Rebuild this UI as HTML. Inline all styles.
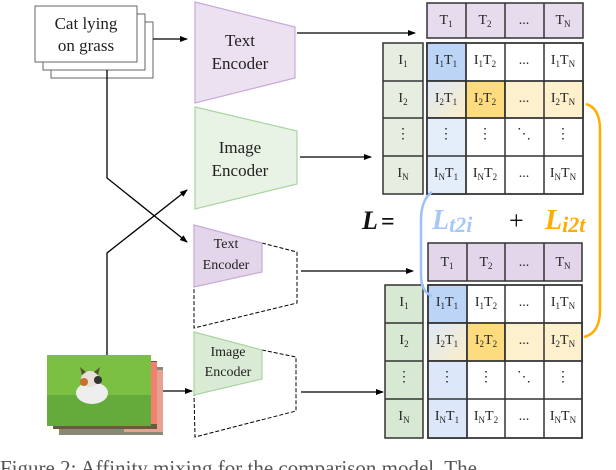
<!DOCTYPE html>
<html><head><meta charset="utf-8"><style>
html,body{margin:0;padding:0;background:#fff;width:616px;height:470px;overflow:hidden}
svg text{font-family:"Liberation Serif","DejaVu Serif",serif;fill:#222}
</style></head><body>
<svg width="616" height="470" viewBox="0 0 616 470" xmlns="http://www.w3.org/2000/svg" font-family="Liberation Serif, DejaVu Serif, serif">
<defs>
<marker id="a" markerWidth="8" markerHeight="8" refX="7" refY="4" orient="auto" markerUnits="userSpaceOnUse"><path d="M0,1 L8,4 L0,7 z" fill="#000"/></marker>
<linearGradient id="g1" x1="0" y1="0" x2="1" y2="1"><stop offset="0" stop-color="#dde8f8"/><stop offset="1" stop-color="#fbeec8"/></linearGradient>
</defs>
<rect x="51" y="22" width="102" height="56" fill="#fff" stroke="#666" stroke-width="1"/>
<rect x="43" y="14" width="102" height="56" fill="#fff" stroke="#666" stroke-width="1"/>
<rect x="35" y="6" width="102" height="56" fill="#fff" stroke="#666" stroke-width="1"/>
<text x="86" y="29" font-size="17" text-anchor="middle">Cat lying</text>
<text x="86" y="51" font-size="17" text-anchor="middle">on grass</text>
<line x1="153" y1="39" x2="187" y2="39" stroke="#000" stroke-width="1.3" marker-end="url(#a)"/>
<polygon points="195,2 295,27 295,78 195,103" fill="#ebe1f1" stroke="#caa9da" stroke-width="1.2"/>
<text x="240" y="46" font-size="17" text-anchor="middle">Text</text>
<text x="240" y="69" font-size="17" text-anchor="middle">Encoder</text>
<polygon points="195,107 297,131 297,184 195,209" fill="#e8f2e5" stroke="#aad4a2" stroke-width="1.2"/>
<text x="240" y="153" font-size="17" text-anchor="middle">Image</text>
<text x="240" y="176" font-size="17" text-anchor="middle">Encoder</text>
<line x1="297" y1="33" x2="415" y2="33" stroke="#000" stroke-width="1.3" marker-end="url(#a)"/>
<line x1="300" y1="157" x2="371" y2="157" stroke="#000" stroke-width="1.3" marker-end="url(#a)"/>
<polyline points="107,70 107,178 187,242" fill="none" stroke="#000" stroke-width="1.3" marker-end="url(#a)"/>
<polyline points="107,355 107,253 187,190" fill="none" stroke="#000" stroke-width="1.3" marker-end="url(#a)"/>
<polygon points="262,243 297,252 297,303 194,328 194,287" fill="none" stroke="#000" stroke-width="1" stroke-dasharray="4,2"/>
<polygon points="194,225 262,243 262,272 194,287" fill="#e3d5ea" stroke="#caa9da" stroke-width="1.2"/>
<text x="226" y="248" font-size="14" text-anchor="middle">Text</text>
<text x="226" y="269" font-size="14" text-anchor="middle">Encoder</text>
<polygon points="262,350 296,357 296,411 195,437 194,395" fill="none" stroke="#000" stroke-width="1" stroke-dasharray="4,2"/>
<polygon points="194,332 262,350 262,379 194,395" fill="#d9ebd5" stroke="#aad4a2" stroke-width="1.2"/>
<text x="228" y="356" font-size="14" text-anchor="middle">Image</text>
<text x="228" y="376" font-size="14" text-anchor="middle">Encoder</text>
<line x1="301" y1="271" x2="413" y2="271" stroke="#000" stroke-width="1.3" marker-end="url(#a)"/>
<line x1="301" y1="392" x2="383" y2="392" stroke="#000" stroke-width="1.3" marker-end="url(#a)"/>
<line x1="163" y1="391" x2="192" y2="391" stroke="#000" stroke-width="1.3" marker-end="url(#a)"/>
<rect x="59" y="367" width="104" height="68" fill="#8a8678"/>
<rect x="124" y="370" width="39" height="62" fill="#e8a090"/>
<rect x="53" y="361" width="104" height="68" fill="#6b5a40"/>
<rect x="130" y="362" width="27" height="62" fill="#f08070"/>
<rect x="47" y="355" width="104" height="71" fill="#7cc043"/>
<rect x="47" y="395" width="104" height="31" fill="#64ab3c"/>
<ellipse cx="92" cy="393" rx="16" ry="11" fill="#eee"/>
<ellipse cx="90" cy="379" rx="9" ry="8" fill="#e8e0d8"/>
<path d="M82,375 L80,367 L86,372 Z M98,375 L100,367 L94,372 Z" fill="#553"/>
<ellipse cx="84" cy="382" rx="4" ry="4" fill="#c87030"/>
<ellipse cx="98" cy="380" rx="4" ry="4" fill="#333"/>
<g stroke="#333" stroke-width="1.5">
<rect x="427" y="3" width="156" height="35" fill="#e6dcee"/>
<line x1="466" y1="3" x2="466" y2="38"/><line x1="505" y1="3" x2="505" y2="38"/><line x1="544" y1="3" x2="544" y2="38"/>
<rect x="383" y="43" width="40" height="151" fill="#e5eee1"/>
<line x1="383" y1="81" x2="423" y2="81"/><line x1="383" y1="118" x2="423" y2="118"/><line x1="383" y1="156" x2="423" y2="156"/>
<rect x="427" y="43" width="156" height="151" fill="#fff"/>
<rect x="427" y="43" width="39" height="38" fill="#bcd5f7"/>
<rect x="427" y="81" width="39" height="37" fill="url(#g1)"/>
<rect x="466" y="81" width="39" height="37" fill="#fddc80"/>
<rect x="505" y="81" width="78" height="37" fill="#fdf0cc"/>
<rect x="427" y="118" width="39" height="76" fill="#e4eefb"/>
<line x1="466" y1="43" x2="466" y2="194"/><line x1="505" y1="43" x2="505" y2="194"/><line x1="544" y1="43" x2="544" y2="194"/>
<line x1="427" y1="81" x2="583" y2="81"/><line x1="427" y1="118" x2="583" y2="118"/><line x1="427" y1="156" x2="583" y2="156"/>
<rect x="427" y="43" width="156" height="151" fill="none"/>
</g>
<g font-size="14" text-anchor="middle">
<text x="446" y="24">T<tspan font-size="9" dy="3">1</tspan></text>
<text x="485" y="24">T<tspan font-size="9" dy="3">2</tspan></text>
<text x="524" y="24">...</text>
<text x="563" y="24">T<tspan font-size="9" dy="3">N</tspan></text>
<text x="403" y="64">I<tspan font-size="9" dy="3">1</tspan></text>
<text x="403" y="102">I<tspan font-size="9" dy="3">2</tspan></text>
<text x="403" y="138">⋮</text>
<text x="403" y="177">I<tspan font-size="9" dy="3">N</tspan></text>
<text x="446" y="64">I<tspan font-size="9" dy="3">1</tspan><tspan dy="-3">T</tspan><tspan font-size="9" dy="3">1</tspan></text>
<text x="485" y="64">I<tspan font-size="9" dy="3">1</tspan><tspan dy="-3">T</tspan><tspan font-size="9" dy="3">2</tspan></text>
<text x="524" y="64">...</text>
<text x="563" y="64">I<tspan font-size="9" dy="3">1</tspan><tspan dy="-3">T</tspan><tspan font-size="9" dy="3">N</tspan></text>
<text x="446" y="102">I<tspan font-size="9" dy="3">2</tspan><tspan dy="-3">T</tspan><tspan font-size="9" dy="3">1</tspan></text>
<text x="485" y="102">I<tspan font-size="9" dy="3">2</tspan><tspan dy="-3">T</tspan><tspan font-size="9" dy="3">2</tspan></text>
<text x="524" y="102">...</text>
<text x="563" y="102">I<tspan font-size="9" dy="3">2</tspan><tspan dy="-3">T</tspan><tspan font-size="9" dy="3">N</tspan></text>
<text x="446" y="138">⋮</text><text x="485" y="138">⋮</text><text x="524" y="138">⋱</text><text x="563" y="138">⋮</text>
<text x="446" y="177">I<tspan font-size="9" dy="3">N</tspan><tspan dy="-3">T</tspan><tspan font-size="9" dy="3">1</tspan></text>
<text x="485" y="177">I<tspan font-size="9" dy="3">N</tspan><tspan dy="-3">T</tspan><tspan font-size="9" dy="3">2</tspan></text>
<text x="524" y="177">...</text>
<text x="563" y="177">I<tspan font-size="9" dy="3">N</tspan><tspan dy="-3">T</tspan><tspan font-size="9" dy="3">N</tspan></text>
</g>
<g stroke="#333" stroke-width="1.5">
<rect x="428" y="243" width="154" height="38" fill="#e3d6ea"/>
<line x1="467" y1="243" x2="467" y2="281"/><line x1="505" y1="243" x2="505" y2="281"/><line x1="544" y1="243" x2="544" y2="281"/>
<rect x="385" y="285" width="38" height="153" fill="#d8e9d3"/>
<line x1="385" y1="323" x2="423" y2="323"/><line x1="385" y1="361" x2="423" y2="361"/><line x1="385" y1="399" x2="423" y2="399"/>
<rect x="428" y="285" width="154" height="153" fill="#fff"/>
<rect x="428" y="285" width="39" height="38" fill="#bcd5f7"/>
<rect x="428" y="323" width="39" height="38" fill="url(#g1)"/>
<rect x="467" y="323" width="38" height="38" fill="#fddc80"/>
<rect x="505" y="323" width="77" height="38" fill="#fdf0cc"/>
<rect x="428" y="361" width="39" height="77" fill="#dce8fa"/>
<line x1="467" y1="285" x2="467" y2="438"/><line x1="505" y1="285" x2="505" y2="438"/><line x1="544" y1="285" x2="544" y2="438"/>
<line x1="428" y1="323" x2="582" y2="323"/><line x1="428" y1="361" x2="582" y2="361"/><line x1="428" y1="399" x2="582" y2="399"/>
<rect x="428" y="285" width="154" height="153" fill="none"/>
</g>
<g font-size="14" text-anchor="middle">
<text x="447" y="266">T<tspan font-size="9" dy="3">1</tspan></text>
<text x="486" y="266">T<tspan font-size="9" dy="3">2</tspan></text>
<text x="524" y="266">...</text>
<text x="563" y="266">T<tspan font-size="9" dy="3">N</tspan></text>
<text x="404" y="306">I<tspan font-size="9" dy="3">1</tspan></text>
<text x="404" y="344">I<tspan font-size="9" dy="3">2</tspan></text>
<text x="404" y="381">⋮</text>
<text x="404" y="420">I<tspan font-size="9" dy="3">N</tspan></text>
<text x="447" y="306">I<tspan font-size="9" dy="3">1</tspan><tspan dy="-3">T</tspan><tspan font-size="9" dy="3">1</tspan></text>
<text x="486" y="306">I<tspan font-size="9" dy="3">1</tspan><tspan dy="-3">T</tspan><tspan font-size="9" dy="3">2</tspan></text>
<text x="524" y="306">...</text>
<text x="563" y="306">I<tspan font-size="9" dy="3">1</tspan><tspan dy="-3">T</tspan><tspan font-size="9" dy="3">N</tspan></text>
<text x="447" y="344">I<tspan font-size="9" dy="3">2</tspan><tspan dy="-3">T</tspan><tspan font-size="9" dy="3">1</tspan></text>
<text x="486" y="344">I<tspan font-size="9" dy="3">2</tspan><tspan dy="-3">T</tspan><tspan font-size="9" dy="3">2</tspan></text>
<text x="524" y="344">...</text>
<text x="563" y="344">I<tspan font-size="9" dy="3">2</tspan><tspan dy="-3">T</tspan><tspan font-size="9" dy="3">N</tspan></text>
<text x="447" y="381">⋮</text><text x="486" y="381">⋮</text><text x="524" y="381">⋱</text><text x="563" y="381">⋮</text>
<text x="447" y="420">I<tspan font-size="9" dy="3">N</tspan><tspan dy="-3">T</tspan><tspan font-size="9" dy="3">1</tspan></text>
<text x="486" y="420">I<tspan font-size="9" dy="3">N</tspan><tspan dy="-3">T</tspan><tspan font-size="9" dy="3">2</tspan></text>
<text x="524" y="420">...</text>
<text x="563" y="420">I<tspan font-size="9" dy="3">N</tspan><tspan dy="-3">T</tspan><tspan font-size="9" dy="3">N</tspan></text>
</g>
<path d="M432,192 Q421,200 421,220 L421,275 Q421,292 432,296" fill="none" stroke="#9cc2f5" stroke-width="2.5"/>
<path d="M586,104 Q600,108 600,130 L600,310 Q600,333 584,337" fill="none" stroke="#ffad00" stroke-width="2.5"/>
<text x="362" y="229" font-size="26" font-weight="bold" font-style="italic" style="fill:#111">L</text>
<text x="381" y="229" font-size="24" font-weight="bold" style="fill:#111">=</text>
<text x="432" y="229" font-size="28" font-weight="bold" font-style="italic" style="fill:#a6c8f7">L<tspan font-size="22" dy="3">t2i</tspan></text>
<text x="509" y="229" font-size="26" style="fill:#111">+</text>
<text x="545" y="229" font-size="28" font-weight="bold" font-style="italic" style="fill:#ffac00">L<tspan font-size="22" dy="3">i2t</tspan></text>
<text x="0" y="475" font-size="21" style="fill:#555">Figure 2: Affinity mixing for the comparison model. The</text>
</svg>
</body></html>
